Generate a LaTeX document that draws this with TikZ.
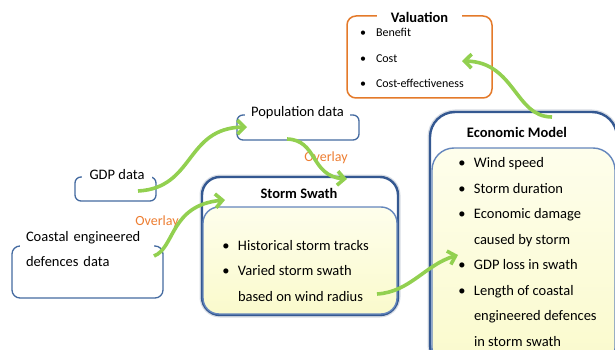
\documentclass[tikz,border=0pt]{standalone}
\usepackage{fontspec}
\setmainfont{Carlito}
\usetikzlibrary{arrows.meta,calc}
\definecolor{boxblue}{RGB}{68,106,160}
\definecolor{darkblue}{RGB}{52,88,145}
\definecolor{innerblue}{RGB}{100,134,188}
\definecolor{ylw}{RGB}{250,250,204}
\definecolor{ylwtop}{RGB}{254,254,236}
\definecolor{valorange}{RGB}{228,122,42}
\definecolor{ovorange}{RGB}{237,125,49}
\definecolor{arrowgreen}{RGB}{146,208,80}
\definecolor{glow}{RGB}{215,220,228}
\newcommand\blt{\makebox[15.6pt][l]{\textbullet}}
\newcommand\bltsmall{\makebox[16pt][l]{\textbullet}}
\begin{document}
\begin{tikzpicture}[x=1pt,y=-1pt,
  every node/.style={inner sep=0pt, outer sep=0pt},
  databox/.style={draw=boxblue, line width=1.3pt, rounded corners=6pt, rectangle},
  lbl/.style={fill=white, font=\fontsize{14.5}{17}\selectfont},
  outerbox/.style={draw=darkblue, line width=2.4pt, fill=white, preaction={draw=glow, line width=5pt}},
  innerbox/.style={draw=innerblue, line width=1.4pt, top color=ylwtop, bottom color=ylw},
  ttl/.style={font=\fontsize{14.5}{17}\selectfont\bfseries},
  blist/.style={anchor=base west, font=\fontsize{14.5}{25.5}\selectfont},
  flow/.style={draw=arrowgreen, line width=3.6pt, -{Straight Barb[length=7pt,width=14pt]}},
  ovl/.style={text=ovorange, font=\fontsize{14}{17}\selectfont}
]
\useasboundingbox (0,0) rectangle (615,350);
\clip (0,0) rectangle (615,350);

% Valuation
\node[draw=valorange, line width=1.5pt, rounded corners=9pt, minimum width=145pt, minimum height=82pt] (valbox) at (419.5,57) {};
\node[fill=white, ttl, minimum width=85pt, minimum height=14pt] (valttl) at (419.5,17) {Valuation};
\node[anchor=base west, font=\fontsize{12}{25.5}\selectfont] (vallist) at (360,37)
  {\begin{tabular}[t]{@{}l@{}}\bltsmall Benefit\\ \bltsmall Cost\\ \bltsmall Cost-effectiveness\end{tabular}};

% data boxes
\node[databox, minimum width=81pt, minimum height=24pt] (gdpbox) at (115.5,189) {};
\node[lbl, minimum width=70pt, minimum height=14pt] (gdplbl) at (117,175) {GDP data};

\node[databox, minimum width=122pt, minimum height=25pt] (popbox) at (298,127.5) {};
\node[lbl, minimum width=105pt, minimum height=14pt] (poplbl) at (297.5,113) {Population data};

\node[databox, rounded corners=8pt, minimum width=151pt, minimum height=52pt] (coastbox) at (87.5,272) {};
\node[fill=white, font=\fontsize{14.5}{25}\selectfont, text width=122pt, align=left, inner xsep=6pt, inner ysep=2pt] (coastlbl) at (87,249.25) {Coastal engineered\\defences data};

% Storm swath
\node[outerbox, rounded corners=18pt, minimum width=196pt, minimum height=138pt] (swathout) at (300,246) {};
\node[innerbox, rounded corners=16pt, minimum width=194pt, minimum height=107pt] (swathin) at (300,260.5) {};
\node[ttl] (swathttl) at (299,193) {Storm Swath};
\node[blist] (swathlist) at (222.4,250)
  {\begin{tabular}[t]{@{}l@{}}\blt Historical storm tracks\\ \blt Varied storm swath\\ \hspace{15.6pt}based on wind radius\end{tabular}};

% Economic model
\node[outerbox, rounded corners=25pt, minimum width=187pt, minimum height=258pt] (econout) at (523.5,241) {};
\node[innerbox, rounded corners=22pt, minimum width=183pt, minimum height=222pt] (econin) at (523.5,259) {};
\node[ttl] (econttl) at (517,132) {Economic Model};
\node[blist] (econlist) at (458.4,167.5)
  {\begin{tabular}[t]{@{}l@{}}\blt Wind speed\\ \blt Storm duration\\ \blt Economic damage\\ \hspace{15.6pt}caused by storm\\ \blt GDP loss in swath\\ \blt Length of coastal\\ \hspace{15.6pt}engineered defences\\ \hspace{15.6pt}in storm swath\end{tabular}};

% Overlay labels
\node[ovl] (ov1) at (326,158) {Overlay};
\node[ovl] (ov2) at (157,222) {Overlay};

% connectors
\draw[flow] ($(gdpbox.east)+(-18,2)$) .. controls +(57,-3) and +(-62,1) .. ($(popbox.west)+(10,-0.5)$);
\draw[flow] ($(popbox.south)+(-11,-1)$) .. controls +(31,1) and +(-37,-3) .. ($(swathout.north)+(47,2)$);
\draw[flow] ($(coastbox.east)+(-9,-16)$) .. controls +(21,-8) and +(-55,5) .. ($(swathout.north west)+(23,23)$);
\draw[flow] ($(swathin.south east)+(-20,-20)$) .. controls +(33,-2) and +(-33,10) .. ($(econin.north west)+(26,107)$);
\draw[flow] ($(econout.north)+(28.5,5)$) .. controls +(-37,0) and +(53,1) .. ($(valbox.east)+(-30,4)$);
\end{tikzpicture}
\end{document}
